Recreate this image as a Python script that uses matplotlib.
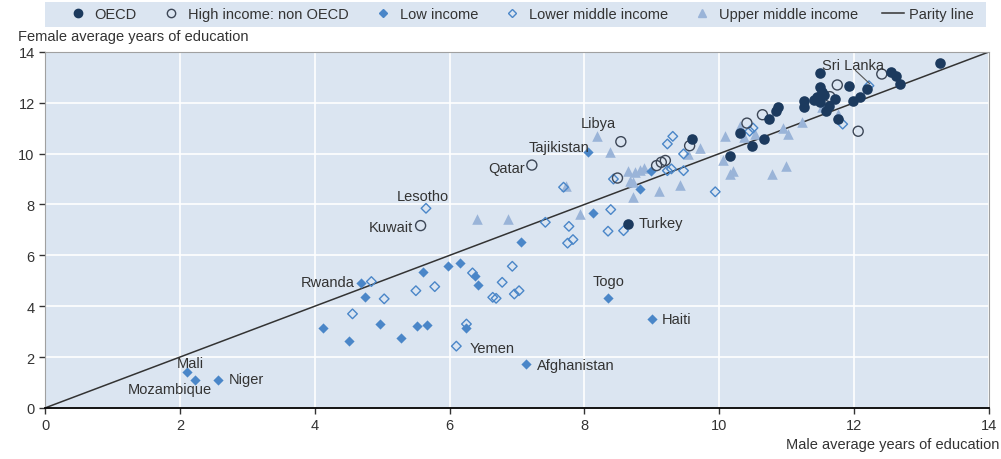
import matplotlib.pyplot as plt
from matplotlib.patches import Rectangle
from matplotlib.lines import Line2D

# male / female average years of education, by income group
oecd_x = [13.27, 11.50, 12.54, 12.62, 12.68, 11.93, 11.50, 12.19, 11.52, 11.45, 11.72, 11.25, 11.25,
          11.49, 11.62, 11.59, 11.99, 12.08, 11.76, 10.87, 10.84, 10.74, 10.31, 10.66, 10.48, 10.16,
          9.59, 8.65, 11.40, 11.55]
oecd_y = [13.55, 13.17, 13.20, 13.04, 12.74, 12.66, 12.63, 12.55, 12.41, 12.22, 12.15, 12.08, 11.85,
          12.02, 11.89, 11.69, 12.08, 12.24, 11.36, 11.82, 11.69, 11.36, 10.80, 10.58, 10.31, 9.92,
          10.58, 7.24, 12.10, 12.30]

hinc_x = [12.41, 11.75, 11.64, 12.06, 10.64, 10.41, 9.56, 9.07, 9.14, 9.20, 8.49, 8.54, 7.22, 5.57]
hinc_y = [13.13, 12.70, 12.24, 10.88, 11.53, 11.20, 10.31, 9.53, 9.66, 9.73, 9.04, 10.47, 9.55, 7.17]

low_x = [8.06, 8.98, 8.83, 8.12, 7.06, 5.61, 5.97, 6.15, 6.38, 6.42, 4.69, 4.75, 4.12, 4.51, 4.97,
         5.28, 5.52, 5.66, 6.24, 7.13, 2.10, 2.23, 2.56, 8.35, 9.00]
low_y = [10.05, 9.31, 8.61, 7.66, 6.51, 5.34, 5.57, 5.70, 5.18, 4.85, 4.92, 4.38, 3.13, 2.65, 3.30,
         2.75, 3.24, 3.26, 3.13, 1.73, 1.40, 1.11, 1.11, 4.31, 3.50]

lmid_x = [12.22, 11.83, 10.50, 10.45, 9.23, 9.31, 9.47, 9.23, 9.29, 9.47, 9.94, 8.43, 7.69, 8.39,
          7.77, 7.42, 7.75, 7.83, 8.35, 8.58, 5.65, 5.50, 5.78, 6.34, 6.93, 6.78, 6.64, 6.69, 6.96,
          7.03, 4.84, 5.03, 4.56, 6.25, 6.10]
lmid_y = [12.67, 11.16, 11.01, 10.88, 10.38, 10.68, 9.99, 9.33, 9.40, 9.33, 8.50, 9.00, 8.68, 7.80,
          7.14, 7.30, 6.48, 6.62, 6.95, 6.97, 7.85, 4.61, 4.77, 5.31, 5.57, 4.94, 4.35, 4.31, 4.48,
          4.61, 4.97, 4.29, 3.70, 3.30, 2.43]

umid_x = [8.19, 8.38, 8.64, 8.75, 8.82, 8.88, 8.68, 8.72, 8.72, 9.10, 9.42, 9.54, 9.72, 10.08,
          10.06, 10.16, 10.20, 10.30, 10.36, 10.53, 10.78, 10.99, 10.95, 11.02, 11.22, 11.52, 11.76,
          7.73, 7.94, 6.40, 6.87]
umid_y = [10.71, 10.05, 9.33, 9.27, 9.37, 9.42, 8.94, 8.90, 8.28, 8.55, 8.77, 9.99, 10.21, 10.68,
          9.75, 9.20, 9.33, 11.10, 10.64, 10.77, 9.20, 9.53, 11.01, 10.77, 11.23, 11.85, 11.56,
          8.74, 7.63, 7.43, 7.43]

# country labels: name, text x, text y, horizontal alignment
labels = [("Libya", 8.20, 11.21, "center"), ("Tajikistan", 8.08, 10.26, "right"),
          ("Qatar", 7.12, 9.44, "right"), ("Lesotho", 5.61, 8.34, "center"),
          ("Kuwait", 5.46, 7.12, "right"), ("Turkey", 8.80, 7.28, "left"),
          ("Rwanda", 4.59, 4.95, "right"), ("Togo", 8.36, 4.99, "center"),
          ("Haiti", 9.15, 3.50, "left"), ("Yemen", 6.29, 2.36, "left"),
          ("Afghanistan", 7.29, 1.69, "left"), ("Mali", 2.15, 1.77, "center"),
          ("Mozambique", 1.85, 0.75, "center"), ("Niger", 2.72, 1.14, "left")]

navy = "#1c3a5e"
blue = "#4a86c8"
light = "#9ab4d8"
grey_edge = "#3c4656"
font = ["Liberation Sans", "DejaVu Sans"]

fig = plt.figure(figsize=(10.01, 4.60), dpi=100)
ax = fig.add_axes([0.045, 0.111, 0.943, 0.774])
ax.set_facecolor("#dbe5f1")

ax.plot([0, 14], [0, 14], color="#333333", linewidth=1.1, zorder=2)
ax.scatter(umid_x, umid_y, marker="^", s=58, color=light, linewidths=0, zorder=3)
ax.scatter(lmid_x, lmid_y, marker="D", s=24, facecolors="none", edgecolors=blue, linewidths=1.0, zorder=3)
ax.scatter(low_x, low_y, marker="D", s=27, color=blue, linewidths=0, zorder=4)
ax.scatter(hinc_x, hinc_y, marker="o", s=52, facecolors="none", edgecolors=grey_edge, linewidths=1.0, zorder=4)
ax.scatter(oecd_x, oecd_y, marker="o", s=58, color=navy, linewidths=0, zorder=5)

for name, tx, ty, ha in labels:
    ax.text(tx, ty, name, ha=ha, va="center", fontsize=10.5, color="#333333", family=font, zorder=6)
ax.text(11.98, 13.49, "Sri Lanka", ha="center", va="center", fontsize=10.5, color="#333333",
        family=font, zorder=6)
ax.plot([12.02, 12.23], [13.27, 12.75], color="#555555", linewidth=0.8, zorder=6)

ax.set_xlim(0, 14)
ax.set_ylim(0, 14)
ax.set_xticks(range(0, 15, 2))
ax.set_yticks(range(0, 15, 2))
ax.grid(color="white", linewidth=1.2)
ax.set_axisbelow(True)
ax.tick_params(labelsize=10.5, colors="#333333", length=4, width=1)
for lab in ax.get_xticklabels() + ax.get_yticklabels():
    lab.set_family(font)
for side in ["top", "right", "left"]:
    ax.spines[side].set_color("#a0a0a0")
    ax.spines[side].set_linewidth(0.8)
ax.spines["bottom"].set_color("black")
ax.spines["bottom"].set_linewidth(1.3)

fig.text(0.018, 0.92, "Female average years of education", fontsize=10.5, color="#333333",
         family=font, va="center")
fig.text(0.998, 0.032, "Male average years of education", fontsize=10.5, color="#333333",
         family=font, va="center", ha="right")

# legend band
fig.patches.append(Rectangle((0.045, 0.939), 0.94, 0.055, transform=fig.transFigure,
                             facecolor="#dbe5f1", edgecolor="none", zorder=0))
handles = [
    Line2D([], [], marker="o", linestyle="none", markersize=6, color=navy),
    Line2D([], [], marker="o", linestyle="none", markersize=6, markerfacecolor="none",
           markeredgecolor=grey_edge),
    Line2D([], [], marker="D", linestyle="none", markersize=4.5, color=blue),
    Line2D([], [], marker="D", linestyle="none", markersize=4.5, markerfacecolor="none",
           markeredgecolor=blue),
    Line2D([], [], marker="^", linestyle="none", markersize=6, color=light),
    Line2D([], [], color="#333333", linewidth=1.1),
]
names = ["OECD", "High income: non OECD", "Low income", "Lower middle income",
         "Upper middle income", "Parity line"]
fig.legend(handles, names, loc="center", bbox_to_anchor=(0.52, 0.967), ncol=6, frameon=False,
           prop={"family": font, "size": 10.5}, handlelength=1.5, handletextpad=0.4,
           columnspacing=1.6, labelcolor="#333333")

fig.savefig("out.png", dpi=100)
